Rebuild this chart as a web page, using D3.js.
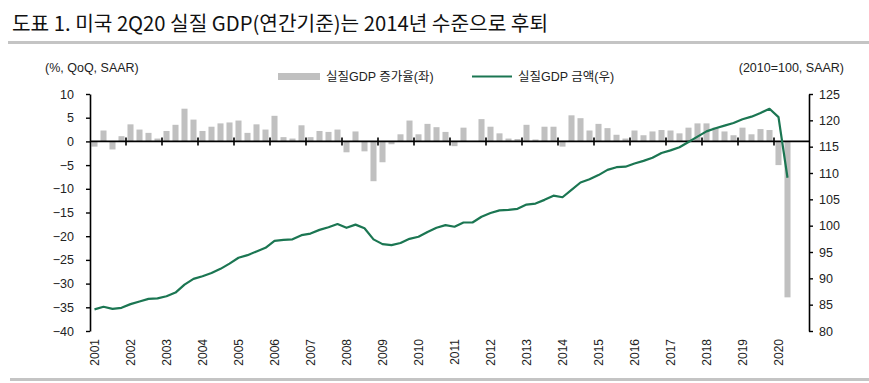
<!DOCTYPE html>
<html>
<head>
<meta charset="utf-8">
<script src="https://cdn.jsdelivr.net/npm/d3@7"></script>
<style>
  html, body { margin: 0; padding: 0; background: #fff; }
  svg { display: block; }
  text { font-family: "Liberation Sans", "Noto Sans CJK KR", sans-serif; fill: #222; }
</style>
</head>
<body>
<svg id="chart" width="869" height="383"></svg>
<script>
// ---- data ----
const years = [2001,2002,2003,2004,2005,2006,2007,2008,2009,2010,2011,2012,2013,2014,2015,2016,2017,2018,2019,2020];
const quarterNames = ["Q1","Q2","Q3","Q4"];
// real GDP growth, %, QoQ SAAR (2001Q1 - 2020Q2)
const growth = [
  -1.1, 2.3, -1.7, 1.1,
   3.6, 2.5, 1.8, 0.6,
   2.2, 3.5, 6.9, 4.6,
   2.2, 3.1, 3.8, 4.0,
   4.4, 1.8, 3.6, 2.5,
   5.4, 0.9, 0.6, 3.4,
   0.9, 2.2, 2.0, 2.5,
  -2.3, 2.1, -2.1, -8.4,
  -4.4, -0.6, 1.5, 4.4,
   1.5, 3.7, 3.0, 2.0,
  -1.0, 2.9, -0.1, 4.7,
   3.1, 1.7, 0.6, 0.5,
   3.5, 0.4, 3.1, 3.1,
  -1.1, 5.5, 4.9, 2.3,
   3.7, 2.8, 1.4, 0.6,
   2.3, 1.3, 2.1, 2.4,
   2.3, 1.7, 2.9, 3.8,
   3.8, 2.9, 2.1, 1.3,
   2.9, 1.5, 2.6, 2.4,
  -5.0, -32.9
];
// real GDP level index, 2010=100 (2001Q1 - 2020Q2)
const level = [
   84.1, 84.6, 84.2, 84.4,
   85.1, 85.6, 86.1, 86.2,
   86.6, 87.3, 88.8, 89.9,
   90.4, 91.0, 91.8, 92.8,
   93.9, 94.4, 95.1, 95.8,
   97.1, 97.3, 97.4, 98.2,
   98.5, 99.2, 99.7, 100.3,
   99.6, 100.2, 99.5, 97.4,
   96.5, 96.3, 96.7, 97.5,
   97.9, 98.8, 99.6, 100.1,
   99.8, 100.6, 100.6, 101.7,
  102.4, 102.9, 103.0, 103.2,
  104.0, 104.2, 104.9, 105.7,
  105.4, 106.8, 108.2, 108.8,
  109.6, 110.6, 111.1, 111.2,
  111.8, 112.3, 112.9, 113.8,
  114.3, 114.9, 115.9, 116.9,
  117.9, 118.5, 119.0, 119.5,
  120.2, 120.7, 121.4, 122.2,
  120.6, 109.1
];
const leftTicks = [10, 5, 0, -5, -10, -15, -20, -25, -30, -35, -40];
const rightTicks = [125, 120, 115, 110, 105, 100, 95, 90, 85, 80];

const titleText = "도표 1. 미국 2Q20 실질 GDP(연간기준)는 2014년 수준으로 후퇴";
const leftUnit = "(%, QoQ, SAAR)";
const rightUnit = "(2010=100, SAAR)";
const legendBar = "실질GDP 증가율(좌)";
const legendLine = "실질GDP 금액(우)";

// ---- layout ----
const svg = d3.select("#chart");
const X0 = 90, X1 = 810, YT = 94, YB = 331;
const barColor = "#c0c0c0", lineColor = "#1b7652";

const quarters = [];
years.forEach(y => quarterNames.forEach(q => quarters.push(y + q)));

const x = d3.scaleBand().domain(quarters).range([X0, X1]).paddingInner(0.33).paddingOuter(0.165);
const xs = d3.scaleBand().domain(quarters).range([X0, X1]);
const yL = d3.scaleLinear().domain([-40, 10]).range([YB, YT]);
const yR = d3.scaleLinear().domain([80, 125]).range([YB, YT]);

// title
svg.append("text")
  .attr("x", 12).attr("y", 31)
  .attr("textLength", 536).attr("lengthAdjust", "spacingAndGlyphs")
  .style("font-family", "'Noto Sans CJK KR', sans-serif")
  .style("font-size", "20px").style("fill", "#111")
  .text(titleText);
svg.append("rect").attr("x", 8).attr("y", 41).attr("width", 861).attr("height", 3).attr("fill", "#c4c4c4");
svg.append("rect").attr("x", 10).attr("y", 378).attr("width", 859).attr("height", 3).attr("fill", "#c4c4c4");

// units
svg.append("text").attr("x", 45).attr("y", 72).style("font-size", "12.5px").text(leftUnit);
svg.append("text").attr("x", 844).attr("y", 72).attr("text-anchor", "end").style("font-size", "12.5px").text(rightUnit);

// legend
svg.append("rect").attr("x", 278).attr("y", 73).attr("width", 42).attr("height", 7).attr("fill", barColor);
svg.append("text").attr("x", 326).attr("y", 81).style("font-size", "12.5px").text(legendBar);
svg.append("line").attr("x1", 472).attr("x2", 512).attr("y1", 76.5).attr("y2", 76.5)
  .attr("stroke", lineColor).attr("stroke-width", 2.2);
svg.append("text").attr("x", 518).attr("y", 81).style("font-size", "12.5px").text(legendLine);

// bars
const barData = growth.map((v, i) => ({q: quarters[i], v}));
svg.append("g").selectAll("rect").data(barData).join("rect")
  .attr("x", d => x(d.q))
  .attr("width", x.bandwidth())
  .attr("y", d => yL(Math.max(0, d.v)))
  .attr("height", d => Math.abs(yL(d.v) - yL(0)))
  .attr("fill", barColor);

// zero line & year ticks
svg.append("line").attr("x1", X0).attr("x2", X1).attr("y1", yL(0)).attr("y2", yL(0))
  .attr("stroke", "#000").attr("stroke-width", 1.6);
svg.append("g").selectAll("line").data(years.slice(1)).join("line")
  .attr("x1", d => xs(d + "Q1")).attr("x2", d => xs(d + "Q1"))
  .attr("y1", yL(0) - 4).attr("y2", yL(0) + 4)
  .attr("stroke", "#000").attr("stroke-width", 1.6);

// line
const lineData = level.map((v, i) => ({q: quarters[i], v}));
svg.append("path").datum(lineData)
  .attr("fill", "none").attr("stroke", lineColor).attr("stroke-width", 2.2)
  .attr("stroke-linejoin", "round")
  .attr("d", d3.line().x(d => xs(d.q) + xs.bandwidth() / 2).y(d => yR(d.v)));

// left axis
const gL = svg.append("g").attr("transform", `translate(${X0},0)`)
  .call(d3.axisLeft(yL).tickValues(leftTicks).tickSize(4).tickPadding(12).tickSizeOuter(0));
gL.select(".domain").attr("stroke", "#000").attr("stroke-width", 1.6);
gL.selectAll(".tick line").attr("stroke", "#000").attr("stroke-width", 1.4);
gL.selectAll("text").style("font-size", "12.5px").style("fill", "#222")
  .style("font-family", "'Liberation Sans', sans-serif");

// right axis
const gR = svg.append("g").attr("transform", `translate(${X1 - 1},0)`)
  .call(d3.axisRight(yR).tickValues(rightTicks).tickSize(4).tickPadding(6).tickSizeOuter(0));
gR.select(".domain").attr("stroke", "#000").attr("stroke-width", 1.6);
gR.selectAll(".tick line").attr("stroke", "#000").attr("stroke-width", 1.4);
gR.selectAll("text").style("font-size", "12.5px").style("fill", "#222")
  .style("font-family", "'Liberation Sans', sans-serif");

// year labels (x axis)
const gX = svg.append("g").attr("transform", `translate(0,${YB})`)
  .call(d3.axisBottom(xs).tickValues(years.map(y => y + "Q1")).tickSize(0).tickFormat(d => d.slice(0, 4)));
gX.select(".domain").remove();
gX.selectAll(".tick text")
  .attr("transform", "translate(0,8) rotate(-90)")
  .attr("text-anchor", "end").attr("x", 0).attr("y", 0).attr("dy", "0.35em")
  .style("font-size", "12px").style("fill", "#222")
  .style("font-family", "'Liberation Sans', sans-serif");
</script>
</body>
</html>
